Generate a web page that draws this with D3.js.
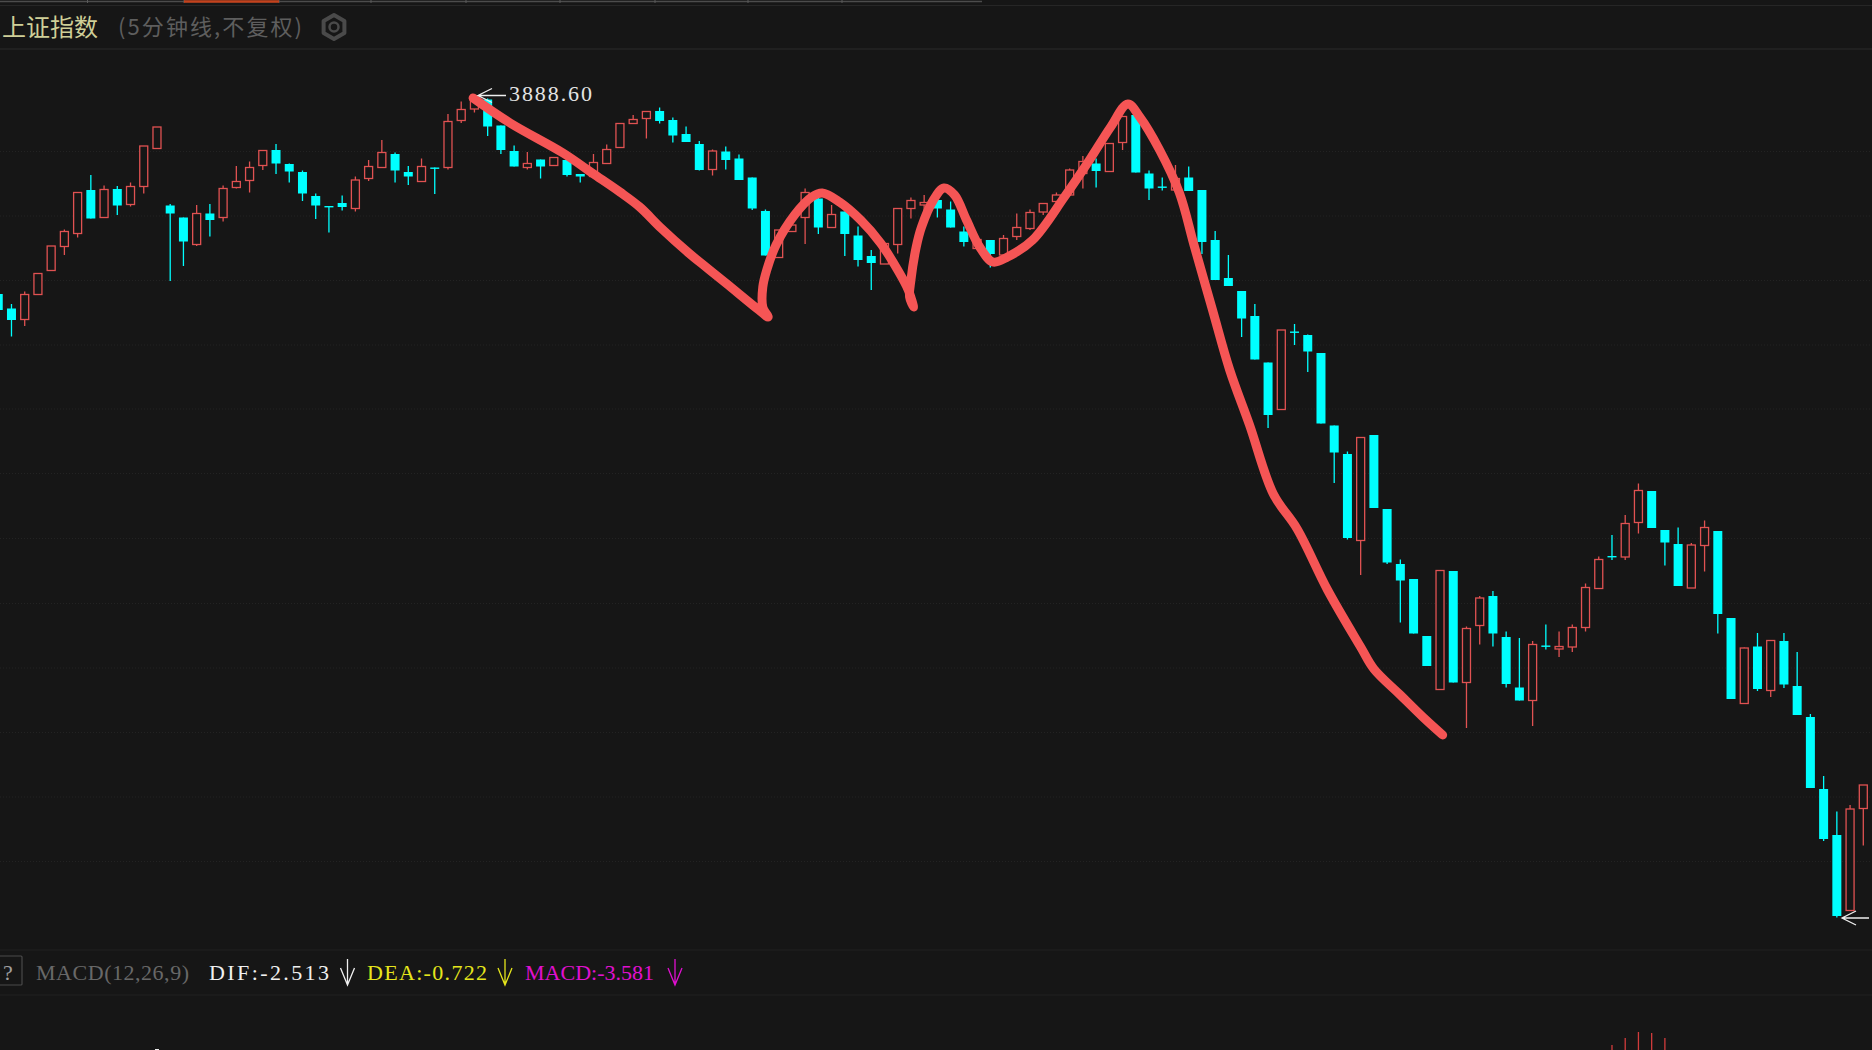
<!DOCTYPE html>
<html><head><meta charset="utf-8">
<style>html,body{margin:0;padding:0;background:#161616;overflow:hidden}svg{display:block}</style>
<script src="https://cdn.jsdelivr.net/npm/d3@7/dist/d3.min.js"></script>
</head><body><svg id="c" width="1872" height="1050"></svg>
<script>
const titleText = "上证指数";
const subtitleText = "(5分钟线,不复权)";
const peakLabel = "3888.60";
const peakValue = 3888.6;
const lowValue = 3724.4;

const opens = [
3849.2,3846.3,3844.1,3849.1,3853.9,3858.7,3861.3,3870,3864.5,3870.2,
3867.1,3870.7,3878.3,3866.9,3864.5,3859.1,3865.3,3864.5,3870.5,3871.9,
3874.9,3878,3875.2,3873.6,3868.8,3866.8,3867.4,3866.3,3872.3,3874.5,
3877.2,3873.6,3871.7,3874.5,3874.5,3883.9,3886.2,3888.1,3882.9,3877.8,
3874.5,3876.1,3874.9,3876,3873.2,3872.7,3875.3,3878.5,3883.3,3884.3,
3885.8,3884,3881.2,3879.2,3874.1,3877.7,3876.3,3872.5,3865.8,3856.5,
3861.7,3864.5,3868.3,3862.5,3865.7,3860.9,3856.8,3855.2,3859.1,3866.3,
3867,3868,3866.1,3861.7,3858.3,3860,3857,3860.7,3862.3,3865.6,
3867.7,3869,3873.3,3875.3,3873.7,3879.5,3885,3873.3,3870.7,3870,
3872.5,3870,3860,3852.4,3849.8,3844.8,3835.5,3826.1,3841.7,3841,
3837.4,3822.9,3817.2,3799.9,3821,3806.2,3795.2,3792.2,3780.8,3770.1,
3793.8,3771.5,3782.9,3788.8,3780.6,3770.5,3767.9,3778.9,3778.2,3778.6,
3782.5,3790.3,3796.8,3796.6,3803.5,3809.8,3802,3799.2,3790.4,3798.9,
3801.8,3784.4,3767.3,3778.7,3769.9,3779.8,3770.8,3764.6,3750.2,3741,
3725.9,3746.3];
const closes = [
3846,3844,3849.1,3853.3,3858.8,3861.7,3869.5,3864.3,3870.1,3866.9,
3870.7,3878.8,3882.6,3865.3,3859.7,3865.3,3864,3870.3,3871.7,3874.5,
3877.9,3875.3,3873.7,3869.3,3866.9,3866.7,3866.6,3872,3874.7,3877.5,
3873.9,3872.7,3874.7,3874.3,3883.7,3886.1,3888.3,3882.7,3878,3874.7,
3875.3,3874.7,3876.5,3873,3872.7,3875.5,3878.1,3883.3,3884.1,3885.7,
3883.8,3880.9,3879.6,3874,3877.8,3876,3872,3866.3,3856.9,3862,
3863,3869.5,3862.5,3865.1,3861.2,3856,3855.4,3859.3,3866.3,3867.9,
3867.5,3866.3,3862.5,3859.6,3860.1,3857.2,3860.3,3862.5,3865.5,3867.3,
3869,3874,3875.7,3873.8,3879.3,3884.7,3873.5,3870.3,3870.6,3872.3,
3869.8,3859.6,3852,3850.8,3844.3,3836.1,3825,3842,3841.5,3837.7,
3823.3,3817.5,3800.4,3820.5,3806.4,3795.5,3791.9,3781.3,3774.8,3793.9,
3771.5,3782.3,3788.4,3781.3,3771.2,3767.9,3779.1,3778.7,3778.7,3782.5,
3790.5,3796.1,3796.6,3803.3,3809.9,3802.4,3799.5,3790.8,3799,3802.5,
3785.2,3768.2,3778.4,3770.2,3779.9,3771.1,3765,3750.4,3740.2,3724.8,
3746.2,3751];
const highs = [
3849.2,3847.2,3849.7,3853.3,3858.8,3862.1,3869.5,3873,3870.9,3870.8,
3871.5,3878.8,3882.6,3867.2,3864.5,3867,3867.2,3870.9,3874.8,3875.7,
3877.9,3879.2,3875.3,3873.9,3869.3,3866.8,3868.9,3872.7,3876,3880,
3877.5,3874.8,3876.3,3874.5,3885.2,3887.7,3888.6,3888.3,3882.9,3878.9,
3877.6,3876.1,3876.5,3876,3873.2,3877.2,3879.1,3883.3,3885,3885.7,
3886.5,3884.5,3882.7,3879.8,3878.1,3878.7,3877.1,3872.5,3866.1,3862,
3864,3870.3,3869,3867,3865.7,3862.7,3858,3859.3,3866.3,3868.5,
3869,3868.3,3867.7,3862.7,3860.1,3860,3861,3865.3,3866.1,3867.3,
3869.5,3874.3,3876.8,3876.3,3879.3,3884.7,3885,3873.9,3872.5,3875,
3874.7,3870,3861.8,3857,3849.8,3847.2,3835.5,3842,3843.2,3841.1,
3837.4,3822.9,3817.7,3820.5,3821,3806.2,3796.1,3792.2,3780.8,3793.9,
3793.8,3782.7,3788.8,3789.8,3781.7,3780.4,3779.8,3783.1,3781.7,3783.1,
3791.3,3796.7,3801,3805,3811.3,3809.8,3802,3802.5,3799.4,3803.9,
3801.8,3784.4,3778.5,3781.4,3779.9,3781.4,3777.6,3765.2,3752.8,3745.7,
3747,3751];
const lows = [
3846,3840.7,3842.8,3849.1,3853.9,3857,3860.5,3864.3,3864.5,3865,
3866.7,3869.3,3878.3,3851.8,3854.8,3858.8,3860.7,3863.7,3870.3,3869.5,
3874,3873.2,3871.5,3867.8,3864.2,3861.5,3865.9,3865.7,3871.8,3874.5,
3871.5,3871,3871.7,3869.2,3874.1,3883.4,3885.5,3880.8,3877.2,3874.7,
3874.1,3872.3,3874.9,3872.7,3871.5,3872.7,3875.3,3878.5,3883.3,3880.3,
3883.3,3879.5,3879.6,3873.9,3872.9,3874.1,3872,3866,3856.9,3856.5,
3861.7,3859.2,3861.2,3862.5,3856.8,3854.7,3850,3855.2,3857.3,3864.3,
3864.7,3864.5,3862.5,3858.7,3858.3,3854.5,3857,3860,3862,3865,
3867.7,3869,3870.3,3870.5,3873.7,3878,3873.5,3868,3869.9,3870,
3869.8,3857.2,3852,3850.8,3840.6,3836.1,3822.4,3826.1,3839,3833.6,
3823.3,3811.4,3800.1,3793,3806.4,3795.2,3783.5,3781.3,3774.8,3770.1,
3771.5,3762.4,3779.1,3778.7,3770.5,3767.9,3762.8,3778.1,3776.6,3777.6,
3781.7,3790.3,3796,3796,3801.3,3802.4,3794.9,3790.8,3790.4,3793.7,
3781.3,3768.2,3767.3,3769.8,3768.6,3770.4,3765,3750.4,3739.8,3724.5,
3725.9,3738.9];

const penIndex = [35.9,38.7,42.7,44.9,47,48.5,50.1,52.2,53.5,55,57.5,58.2,57.8,57.8,58.1,58.8,60.2,61.5,62.3,63.6,65.2,66.7,68,68.8,69.2,68.9,69,69.4,69.8,70.7,71.5,72.3,73.2,74.2,75.2,76.3,78.2,80.6,82.5,84.1,85.4,86.3,87.8,89.3,90.4,91.8,93.1,94.6,96.4,98.2,100.5,103,104,106,107.7,109.2];
const penPrice = [3888.4,3883.4,3877.4,3873.4,3869.6,3866.6,3862.4,3857.4,3854.6,3851.4,3846,3844.6,3846.6,3850.6,3854,3859,3865,3868.6,3869.4,3867.6,3864,3859.4,3854,3850,3846.6,3848.6,3852,3858.6,3862.6,3868,3870.4,3869,3864,3858.6,3855.6,3856.6,3860,3868.6,3876,3882.6,3887.2,3884.6,3878,3869.4,3859,3846,3834,3823,3809.2,3802.2,3790,3778.6,3774.2,3769,3764.6,3761];

const gridLevels = [3877.8,3864.9,3852,3839.1,3826.3,3813.4,3800.4,3787.4,3774.5,3761.6,3748.7,3735.8];
const macdIndex = [122,123,124,125,126];
const macdValues = [2.5,3.2,3.8,3.7,3.2];
const tabEdges = [87.5,184,279,371,466,560,655,748,842];
const macdLabels = ["MACD(12,26,9)","DIF:-2.513","DEA:-0.722","MACD:-3.581"];

const W = 1872, H = 1050;
const BG = "#161616", CYAN = "#00ffff", RED = "#e05252", PEN = "#f55555";
const SERIF = "'Liberation Serif',serif", CJK = "'Noto Sans CJK SC',sans-serif";
const svg = d3.select("#c");
const x = d3.scaleLinear().domain([0,141]).range([-1.75,1863.3]);
const y = d3.scaleLinear().domain([3908,3698]).range([0,1050]);
const macdY = d3.scaleLinear().domain([0,4]).range([1070,1030]);
const bars = d3.range(opens.length).map(i=>({i,o:opens[i],c:closes[i],h:highs[i],l:lows[i],up:closes[i]>=opens[i]}));

svg.append("rect").attr("width",W).attr("height",H).attr("fill",BG);

// grid via axis
const gridG = svg.append("g").call(d3.axisLeft(y).tickValues(gridLevels).tickSize(-W).tickFormat(""));
gridG.select(".domain").remove();
gridG.selectAll("line").attr("stroke","#232323").attr("stroke-dasharray","1 2");

// panel separators
[49,950,995].forEach(v=>svg.append("line").attr("x1",0).attr("x2",W).attr("y1",v).attr("y2",v)
  .attr("stroke",v===49?"#2a2a2a":"#202020").attr("stroke-width",1));

// top tabs
svg.append("line").attr("x1",0).attr("x2",982).attr("y1",1.5).attr("y2",1.5).attr("stroke","#4c4c4c").attr("stroke-width",1.5);
svg.append("line").attr("x1",0).attr("x2",W).attr("y1",5.5).attr("y2",5.5).attr("stroke","#262626").attr("stroke-width",1);
svg.selectAll("line.tab").data(tabEdges).join("line").attr("class","tab")
  .attr("x1",d=>d).attr("x2",d=>d).attr("y1",0).attr("y2",3).attr("stroke","#5a5a5a").attr("stroke-width",1);
svg.append("line").attr("x1",tabEdges[1]).attr("x2",tabEdges[2]).attr("y1",1.5).attr("y2",1.5).attr("stroke","#c4421d").attr("stroke-width",2.5);

// candles
const g = svg.append("g");
g.selectAll("line.w").data(bars).join("line").attr("class","w")
  .attr("x1",d=>x(d.i)).attr("x2",d=>x(d.i)).attr("y1",d=>y(d.h)).attr("y2",d=>y(d.l))
  .attr("stroke",d=>d.up?RED:CYAN).attr("stroke-width",1.3);
g.selectAll("rect.b").data(bars).join("rect").attr("class","b")
  .attr("x",d=>x(d.i)-(d.up?4:4.5)).attr("width",d=>d.up?8:9)
  .attr("y",d=>y(Math.max(d.o,d.c))).attr("height",d=>Math.max(1.4,Math.abs(y(d.o)-y(d.c))))
  .attr("fill",d=>d.up?BG:CYAN).attr("stroke",d=>d.up?RED:"none").attr("stroke-width",1.3);

// macd bars
svg.selectAll("line.m").data(macdIndex).join("line").attr("class","m")
  .attr("x1",d=>x(d)).attr("x2",d=>x(d)).attr("y1",(d,k)=>macdY(macdValues[k])).attr("y2",1050)
  .attr("stroke","#d23c3c").attr("stroke-width",1.3);
svg.append("rect").attr("x",x(12)-2).attr("width",4).attr("y",macdY(2.1)).attr("height",2).attr("fill","#eee");

// pen stroke
const pen = d3.line().x(d=>x(d[0])).y(d=>y(d[1])).curve(d3.curveCatmullRom.alpha(0.5));
svg.append("path").attr("d",pen(penIndex.map((v,k)=>[v,penPrice[k]])))
  .attr("fill","none").attr("stroke",PEN).attr("stroke-width",9).attr("stroke-linecap","round").attr("stroke-linejoin","round");

// arrows
function leftArrow(tip,yy,len,col){
  svg.append("path").attr("d",`M${tip+len},${yy}H${tip}M${tip+14},${yy-7}L${tip},${yy}L${tip+14},${yy+7}`)
    .attr("fill","none").attr("stroke",col).attr("stroke-width",1.3);
}
leftArrow(478,y(peakValue)-1.5,28,"#eeeeee");
leftArrow(1842,y(lowValue),27,"#eeeeee");
svg.append("text").attr("x",509).attr("y",y(peakValue)+4).attr("font-family",SERIF).attr("font-size",22)
  .attr("textLength",83).attr("lengthAdjust","spacing").attr("fill","#e4e4e4").text(peakLabel);

// header
svg.append("text").attr("x",2).attr("y",36).attr("font-family",CJK).attr("font-size",24).attr("fill","#cfcf98").text(titleText);
svg.append("text").attr("x",118).attr("y",35).attr("font-family",CJK).attr("font-size",22).attr("fill","#5e5e5e")
  .attr("textLength",184).attr("lengthAdjust","spacing").text(subtitleText);
const hex = d3.range(6).map(k=>{const a=Math.PI/3*k+Math.PI/6;return [334+12*Math.cos(a),27+12*Math.sin(a)];});
svg.append("path").attr("d",d3.line().curve(d3.curveLinearClosed)(hex)).attr("fill","none").attr("stroke","#4a4a4a").attr("stroke-width",4).attr("stroke-linejoin","round");
svg.append("circle").attr("cx",334).attr("cy",27).attr("r",4.5).attr("fill","none").attr("stroke","#4a4a4a").attr("stroke-width",2.5);

// MACD row
svg.append("rect").attr("x",-4).attr("y",956).attr("width",26).attr("height",29).attr("fill","none").attr("stroke","#4a4a4a").attr("stroke-width",1.2).attr("rx",1);
svg.append("text").attr("x",8).attr("y",980).attr("text-anchor","middle").attr("font-family",SERIF).attr("font-size",22).attr("fill","#a0a0a0").text("?");
const rowX = [36,209,367,525], rowL = [153,120,120,129], rowC = ["#686868","#f0f0f0","#e6e61c","#e010d0"];
macdLabels.forEach((t,k)=>svg.append("text").attr("x",rowX[k]).attr("y",980).attr("font-family",SERIF).attr("font-size",22)
  .attr("textLength",rowL[k]).attr("lengthAdjust","spacing").attr("fill",rowC[k]).text(t));
function downArrow(xx,col){
  svg.append("path").attr("d",`M${xx},959V985M${xx-7},968L${xx},985L${xx+7},968`).attr("fill","none").attr("stroke",col).attr("stroke-width",1.3);
}
downArrow(347.5,"#f0f0f0");downArrow(505,"#e6e61c");downArrow(675,"#e010d0");
</script></body></html>
